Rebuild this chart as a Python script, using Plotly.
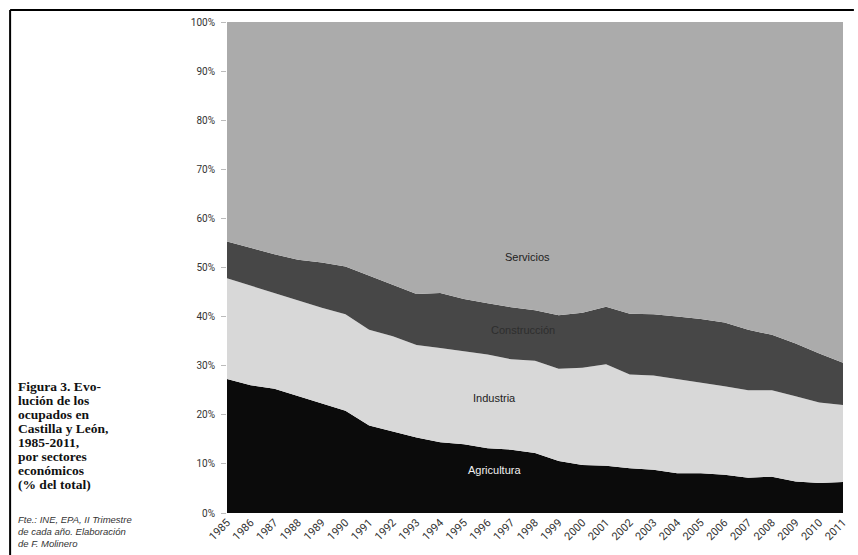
import plotly.graph_objects as go

years = list(range(1985, 2012))
agricultura = [27.3, 26.0, 25.3, 23.8, 22.3, 20.8, 17.8, 16.6, 15.4, 14.4, 14.0, 13.2, 12.9, 12.2,
               10.6, 9.8, 9.6, 9.1, 8.8, 8.1, 8.1, 7.8, 7.2, 7.4, 6.4, 6.1, 6.3]
industria = [20.5, 20.3, 19.5, 19.5, 19.5, 19.7, 19.5, 19.4, 18.8, 19.2, 19.0, 19.1, 18.4, 18.8,
             18.8, 19.8, 20.7, 19.1, 19.2, 19.2, 18.5, 18.0, 17.8, 17.6, 17.4, 16.4, 15.7]
construccion = [7.5, 7.7, 7.9, 8.3, 9.2, 9.7, 11.0, 10.5, 10.4, 11.2, 10.6, 10.4, 10.6, 10.3,
                10.9, 11.2, 11.7, 12.4, 12.5, 12.7, 12.9, 13.0, 12.3, 11.3, 10.7, 10.0, 8.6]
servicios = [44.7, 46.0, 47.3, 48.4, 49.0, 49.8, 51.7, 53.5, 55.4, 55.2, 56.4, 57.3, 58.1, 58.7,
             59.7, 59.2, 58.0, 59.4, 59.5, 60.0, 60.5, 61.2, 62.7, 63.7, 65.5, 67.5, 69.4]

sectores = ["Agricultura", "Industria", "Construcción", "Servicios"]
valores = [agricultura, industria, construccion, servicios]
colores = ["#0b0b0b", "#d8d8d8", "#474747", "#ababab"]

caption_lines = ["Figura 3. Evo-", "lución de los", "ocupados en", "Castilla y León,",
                 "1985-2011,", "por sectores", "económicos", "(% del total)"]
fuente_lines = ["Fte.: INE, EPA, II Trimestre", "de cada año. Elaboración", "de F. Molinero"]

fig = go.Figure()
for nombre, vals, col in zip(sectores, valores, colores):
    fig.add_trace(go.Scatter(
        x=years, y=vals, name=nombre, mode="lines", stackgroup="one",
        line=dict(width=0, color=col), fillcolor=col, hoverinfo="x+y+name"))

# plot area in pixels: x 227..849, y 22..513
W, H = 858, 555
L, R, T, B = 227, 9, 22, 42
pw, ph = W - L - R, H - T - B

def px(x):
    return (x - L) / pw

def py(y):
    return (H - B - y) / ph

lbl_font = dict(family="Liberation Sans, Arial, sans-serif", size=11, color="#222222")
fig.add_annotation(x=1997.7, y=52.1, text="Servicios", showarrow=False, font=lbl_font)
fig.add_annotation(x=1997.5, y=37.3, text="Construcción", showarrow=False,
                   font=dict(family="Liberation Sans, Arial, sans-serif", size=11, color="#2e2e2e"))
fig.add_annotation(x=1996.3, y=23.4, text="Industria", showarrow=False, font=lbl_font)
fig.add_annotation(x=1996.3, y=8.8, text="Agricultura", showarrow=False,
                   font=dict(family="Liberation Sans, Arial, sans-serif", size=11, color="#f0f0f0"))

for i, t in enumerate(caption_lines):
    fig.add_annotation(xref="paper", yref="paper", x=px(14), y=py(386 + 14 * i),
                       xanchor="left", yanchor="middle", text="<b>" + t + "</b>", showarrow=False,
                       font=dict(family="Liberation Serif, Times New Roman, serif", size=13.5,
                                 color="#111111"))
for i, t in enumerate(fuente_lines):
    fig.add_annotation(xref="paper", yref="paper", x=px(14), y=py(519 + 12 * i),
                       xanchor="left", yanchor="middle", text="<i>" + t + "</i>", showarrow=False,
                       font=dict(family="Liberation Sans, Arial, sans-serif", size=9.5, color="#333333"))

# frame lines (top and left)
fig.add_shape(type="line", xref="paper", yref="paper", x0=px(8), x1=px(860), y0=py(10), y1=py(10),
              line=dict(color="#000000", width=2))
fig.add_shape(type="line", xref="paper", yref="paper", x0=px(8), x1=px(8), y0=py(10), y1=py(560),
              line=dict(color="#000000", width=2))

fig.update_layout(
    width=W, height=H,
    margin=dict(l=L, r=R, t=T, b=B),
    paper_bgcolor="white", plot_bgcolor="white",
    showlegend=False,
    xaxis=dict(range=[1985, 2011], tickmode="array", tickvals=years, ticktext=[str(y) for y in years],
               tickangle=-45, showgrid=False, zeroline=False, showline=False, ticks="",
               tickfont=dict(family="Roboto, Arial, sans-serif", size=11, color="#333333")),
    yaxis=dict(range=[0, 100], tickvals=list(range(0, 101, 10)),
               ticktext=[f"{v}%" for v in range(0, 101, 10)],
               showgrid=False, zeroline=False, showline=False, ticks="outside", ticklen=5,
               tickcolor="#bbbbbb", ticklabelstandoff=4,
               tickfont=dict(family="Roboto, Arial, sans-serif", size=10, color="#333333")),
)

fig.write_html("out.html", config={"displayModeBar": False},
               post_script="document.body.style.margin='0';document.body.style.overflow='hidden';")
